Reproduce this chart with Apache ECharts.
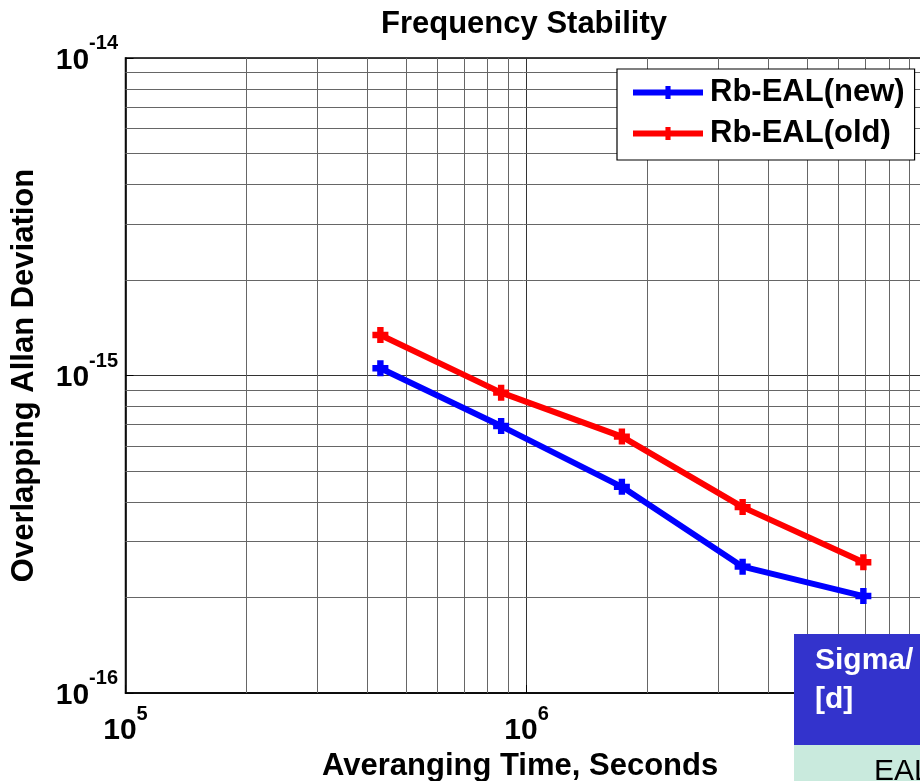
<!DOCTYPE html>
<html><head><meta charset="utf-8">
<script src="https://cdn.jsdelivr.net/npm/echarts@6/dist/echarts.min.js"></script>
<style>html,body{margin:0;padding:0;background:#fff}#c{width:920px;height:781px}</style>
</head><body><div id="c"></div>
<script>
// ---- data ----
const tauSeconds = [432000, 864000, 1728000, 3456000, 6912000];
const yUnitExp = -15;                       // deviation values below are in units of 1e-15
const adevNew = [1.054, 0.693, 0.446, 0.250, 0.202];
const adevOld = [1.341, 0.883, 0.642, 0.385, 0.258];
const seriesNames = ['Rb-EAL(new)', 'Rb-EAL(old)'];
const xTickExponents = [5, 6, 7];
const yTickExponents = [-16, -15, -14];
const titleText = 'Frequency Stability';
const xName = 'Averanging Time, Seconds';
const yName = 'Overlapping Allan Deviation';
const tableHeader = ['Sigma/', '[d]'];
const tableCell = 'EAL';

// ---- helpers ----
const FONT = 'Arial, "Liberation Sans", Helvetica, sans-serif';
function minorValues(e0, e1, shift) {
  const out = [];
  for (let e = e0; e < e1; e++) for (let m = 2; m <= 9; m++) out.push(m * Math.pow(10, e - shift));
  return out;
}
const xMinor = minorValues(xTickExponents[0], xTickExponents[xTickExponents.length - 1], 0);
const yMinor = minorValues(yTickExponents[0], yTickExponents[yTickExponents.length - 1], yUnitExp);
const rich = {
  b: { fontSize: 30, fontWeight: 'bold', fontFamily: FONT, color: '#000', lineHeight: 54 },
  s: { fontSize: 20, fontWeight: 'bold', fontFamily: FONT, color: '#000', lineHeight: 20, verticalAlign: 'top' }
};
const plusPath = 'path://M3,0 H7 V3 H10 V7 H7 V10 H3 V7 H0 V3 H3 Z';

const chart = echarts.init(document.getElementById('c'), null, { renderer: 'canvas' });
chart.setOption({
  animation: false,
  backgroundColor: '#fff',
  title: {
    text: titleText, left: 381, top: 9, padding: 0,
    textStyle: { fontSize: 31, fontWeight: 'bold', fontFamily: FONT, color: '#000' }
  },
  grid: {
    left: 125.5, top: 58, right: -7.7, bottom: 88,
    outerBoundsMode: 'none', containLabel: false,
    show: true, borderColor: '#000', borderWidth: 1.5, backgroundColor: '#fff'
  },
  legend: {
    data: seriesNames, orient: 'vertical', left: 617, top: 69,
    padding: [8, 10, 11, 13], itemGap: 10, itemWidth: 70, itemHeight: 16,
    backgroundColor: '#fff', borderColor: '#000', borderWidth: 1.2, borderRadius: 0,
    lineStyle: { width: 6 },
    textStyle: { fontSize: 31, fontWeight: 'bold', fontFamily: FONT, color: '#000', lineHeight: 30, padding: [0, 0, 0, 2] }
  },
  xAxis: {
    type: 'log', logBase: 10,
    min: Math.pow(10, xTickExponents[0]), max: Math.pow(10, xTickExponents[xTickExponents.length - 1]),
    name: xName, nameLocation: 'middle', nameGap: 54,
    nameTextStyle: { fontSize: 31, fontWeight: 'bold', fontFamily: FONT, color: '#000', padding: [0, 13, 0, 0] },
    axisLine: { show: true, lineStyle: { color: '#000', width: 1.5 } },
    axisTick: { show: true, inside: true, length: 8, lineStyle: { color: '#000' } },
    axisLabel: { margin: 11, formatter: v => '{b|10}{s|' + Math.round(Math.log10(v)) + '}', rich: rich },
    splitLine: { show: true, lineStyle: { color: '#333', width: 1 } }
  },
  yAxis: {
    type: 'log', logBase: 10,
    min: Math.pow(10, yTickExponents[0] - yUnitExp), max: Math.pow(10, yTickExponents[yTickExponents.length - 1] - yUnitExp),
    name: yName, nameLocation: 'middle', nameGap: 86,
    nameTextStyle: { fontSize: 31, fontWeight: 'bold', fontFamily: FONT, color: '#000' },
    axisLine: { show: true, lineStyle: { color: '#000', width: 1.5 } },
    axisTick: { show: true, inside: true, length: 8, lineStyle: { color: '#000' } },
    axisLabel: { margin: 7.5, padding: [5, 0, 0, 0], formatter: v => '{b|10}{s|' + (Math.round(Math.log10(v)) + yUnitExp) + '}', rich: rich },
    splitLine: { show: true, lineStyle: { color: '#333', width: 1 } }
  },
  series: [
    {
      name: '_grid', type: 'line', data: [], z: 1, silent: true,
      markLine: {
        silent: true, symbol: 'none', animation: false, z: 1,
        label: { show: false },
        lineStyle: { color: '#666', width: 1, type: 'solid' },
        emphasis: { disabled: true },
        data: xMinor.map(v => ({ xAxis: v })).concat(yMinor.map(v => ({ yAxis: v })))
      }
    },
    {
      name: seriesNames[0], type: 'line', z: 3,
      data: tauSeconds.map((t, i) => [t, adevNew[i]]),
      symbol: plusPath, symbolSize: 16,
      lineStyle: { color: '#0000ff', width: 6 }, itemStyle: { color: '#0000ff' }
    },
    {
      name: seriesNames[1], type: 'line', z: 3,
      data: tauSeconds.map((t, i) => [t, adevOld[i]]),
      symbol: plusPath, symbolSize: 16,
      lineStyle: { color: '#ff0000', width: 6 }, itemStyle: { color: '#ff0000' }
    }
  ],
  graphic: [
    { type: 'rect', z: 100, shape: { x: 794, y: 634, width: 140, height: 111 }, style: { fill: '#3333cc' } },
    { type: 'rect', z: 100, shape: { x: 794, y: 745, width: 140, height: 50 }, style: { fill: '#c9eadd' } },
    { type: 'text', z: 101, style: { x: 815, y: 646, text: tableHeader[0], fill: '#fff', font: 'bold 30px ' + FONT, align: 'left', verticalAlign: 'top' } },
    { type: 'text', z: 101, style: { x: 815, y: 685, text: tableHeader[1], fill: '#fff', font: 'bold 30px ' + FONT, align: 'left', verticalAlign: 'top' } },
    { type: 'text', z: 101, style: { x: 874, y: 757, text: tableCell, fill: '#000', font: '30px ' + FONT, align: 'left', verticalAlign: 'top' } }
  ]
});
</script></body></html>
